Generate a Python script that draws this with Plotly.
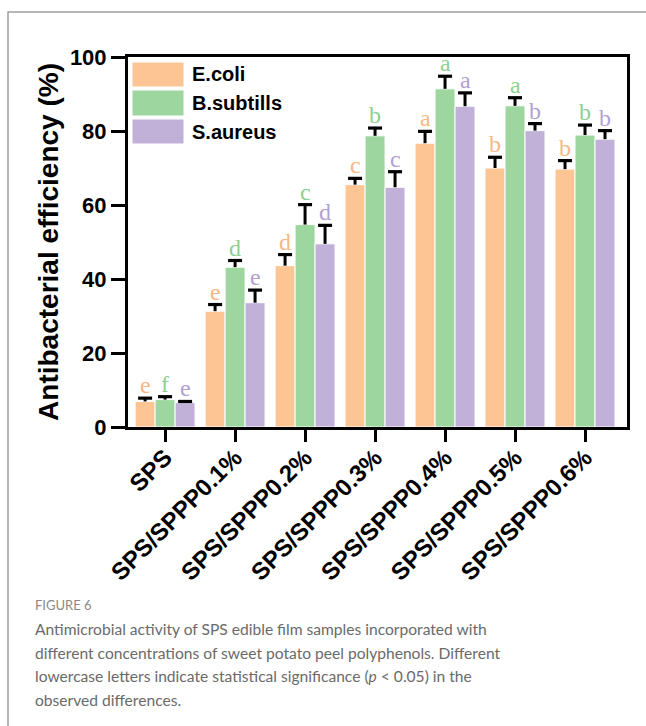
import plotly.graph_objects as go

categories = ["SPS", "SPS/SPPP0.1%", "SPS/SPPP0.2%", "SPS/SPPP0.3%",
              "SPS/SPPP0.4%", "SPS/SPPP0.5%", "SPS/SPPP0.6%"]
series_names = ["E.coli", "B.subtills", "S.aureus"]
ecoli = [6.9, 31.3, 43.6, 65.5, 76.7, 70.0, 69.7]
ecoli_err = [0.9, 1.8, 3.0, 1.7, 3.2, 2.9, 2.3]
bsub = [7.4, 43.2, 54.7, 78.7, 91.4, 86.8, 78.9]
bsub_err = [0.8, 1.8, 5.4, 2.1, 3.4, 2.2, 2.7]
saur = [6.6, 33.6, 49.5, 64.8, 86.7, 80.1, 77.8]
saur_err = [0.3, 3.4, 5.0, 4.2, 3.6, 1.9, 2.3]
ecoli_letters = ["e", "e", "d", "c", "a", "b", "b"]
bsub_letters = ["f", "d", "c", "b", "a", "a", "b"]
saur_letters = ["e", "e", "d", "c", "a", "b", "b"]
y_ticks = [0, 20, 40, 60, 80, 100]

bar_colors = ["#FDC594", "#9DD69F", "#C1B1D9"]
letter_colors = ["#F8B886", "#8FCF93", "#B2A1D3"]

W, H = 646, 726
L, R, T, B = 128, 627, 57, 427  # plot area in pixels
BARGAP = 0.143
BAR_W = (1 - BARGAP) / 3


def px(xp):
    return (xp - L) / (R - L)


def py(yp):
    return (B - yp) / (B - T)


idx = list(range(len(categories)))
fig = go.Figure()
data = [(ecoli, ecoli_err, ecoli_letters), (bsub, bsub_err, bsub_letters),
        (saur, saur_err, saur_letters)]
for i, (vals, errs, letters) in enumerate(data):
    fig.add_trace(go.Bar(
        x=idx, y=vals, name=series_names[i],
        marker=dict(color=bar_colors[i], line=dict(color="white", width=1)),
        error_y=dict(type="data", array=errs, arrayminus=[0] * len(errs),
                     symmetric=False, color="black", thickness=3, width=0),
        showlegend=False,
    ))
for i, (vals, errs, letters) in enumerate(data):
    xs = [j + (i - 1) * BAR_W for j in idx]
    tops = [v + e for v, e in zip(vals, errs)]
    fig.add_trace(go.Scatter(
        x=xs, y=tops, mode="markers", showlegend=False, hoverinfo="skip",
        marker=dict(symbol="line-ew", size=10, color="black",
                    line=dict(color="black", width=3.2)),
    ))
    for j in idx:
        fig.add_annotation(
            x=xs[j], y=tops[j], xref="x", yref="y",
            text=letters[j], showarrow=False, yanchor="bottom", yshift=-2,
            font=dict(family="Liberation Serif", size=24, color=letter_colors[i]),
        )

# legend (manual, large swatches)
sw = [(62, 87), (90, 116), (119, 144)]
for i, (y0, y1) in enumerate(sw):
    fig.add_shape(type="rect", xref="paper", yref="paper",
                  x0=px(132), x1=px(184), y0=py(y1), y1=py(y0),
                  fillcolor=bar_colors[i], line=dict(color="white", width=1))
    fig.add_annotation(xref="paper", yref="paper", x=px(190), y=py((y0 + y1) / 2),
                       text="<b>%s</b>" % series_names[i], showarrow=False,
                       xanchor="left", yanchor="middle",
                       font=dict(family="Liberation Sans", size=20, color="black"))

# outer card frame
fig.add_shape(type="rect", xref="paper", yref="paper",
              x0=px(8), x1=px(670), y0=py(760), y1=py(12),
              line=dict(color="#A0A0A0", width=1.5), layer="below")

# caption
fig.add_annotation(xref="paper", yref="paper", x=px(33), y=py(605),
                   text="FIGURE 6", showarrow=False, xanchor="left", yanchor="middle",
                   font=dict(family="Lato", size=13, color="#8A8A8A"))
cap_lines = [
    "Antimicrobial activity of SPS edible film samples incorporated with",
    "different concentrations of sweet potato peel polyphenols. Different",
    "lowercase letters indicate statistical significance (<i>p</i> &lt; 0.05) in the",
    "observed differences.",
]
for k, line in enumerate(cap_lines):
    fig.add_annotation(xref="paper", yref="paper", x=px(33), y=py(629 + k * 23.6),
                       text=line, showarrow=False, xanchor="left", yanchor="middle",
                       font=dict(family="Lato", size=15.6, color="#6A6A6A"))

fig.update_layout(
    width=W, height=H,
    margin=dict(l=L, r=W - R, t=T, b=H - B, pad=0),
    paper_bgcolor="white", plot_bgcolor="white",
    barmode="group", bargap=BARGAP, bargroupgap=0,
    font=dict(family="Liberation Sans", color="black"),
    xaxis=dict(
        range=[-0.53, 6.6],
        showline=True, linewidth=3, linecolor="black", mirror=True,
        ticks="outside", ticklen=12, tickwidth=3, tickcolor="black",
        tickangle=-45, showgrid=False, zeroline=False, ticklabelstandoff=-8,
        tickfont=dict(family="Liberation Sans", size=24, color="black"),
        tickvals=idx, ticktext=["<b>%s</b>" % c for c in categories],
    ),
    yaxis=dict(
        range=[0, 100], tickvals=y_ticks, ticktext=["<b>%d</b>" % v for v in y_ticks],
        showline=True, linewidth=3, linecolor="black", mirror=True,
        ticks="outside", ticklen=14, tickwidth=3, tickcolor="black",
        showgrid=False, zeroline=False,
        tickfont=dict(family="Liberation Sans", size=22, color="black"),
        title=dict(text="<b>Antibacterial efficiency (%)</b>", standoff=4,
                   font=dict(family="Liberation Sans", size=28, color="black")),
    ),
)

fig.write_html("out.html", post_script="document.body.style.margin='0';",
               config={"displayModeBar": False})
